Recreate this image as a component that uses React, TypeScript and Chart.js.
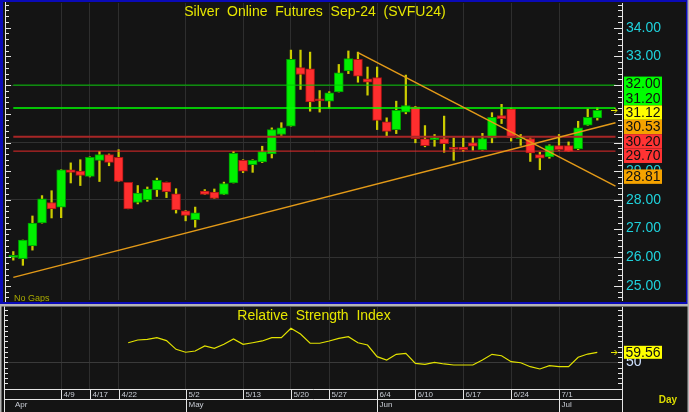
import React, { useEffect, useRef } from 'react';
import { Chart, registerables } from 'chart.js';

Chart.register(...registerables);

// ---------- DATA ----------
const OPEN = [26.00, 25.95, 26.40, 27.20, 27.91, 27.75, 29.05, 29.00, 28.82, 29.38,
  29.58, 29.48, 28.61, 27.91, 28.00, 28.35, 28.61, 28.21, 27.62, 27.31,
  28.31, 28.27, 28.19, 28.59, 29.38, 29.23, 29.32, 29.60, 30.28, 30.57,
  32.61, 32.57, 31.48, 31.44, 31.76, 32.49, 32.90, 32.22, 32.26, 30.72,
  30.45, 31.06, 31.24, 30.13, 30.10, 30.14, 29.80, 29.84, 29.99, 29.75,
  30.15, 30.94, 31.17, 30.13, 30.14, 29.58, 29.50, 29.89, 29.89, 29.78,
  30.60, 30.86];
const HIGH = [26.20, 26.60, 27.44, 28.15, 28.32, 29.05, 29.29, 29.40, 29.50, 29.69,
  29.60, 29.75, 28.61, 28.50, 28.45, 28.76, 28.62, 28.39, 27.63, 27.75,
  28.36, 28.38, 28.62, 29.69, 29.40, 29.40, 29.87, 30.51, 30.69, 33.22,
  33.22, 33.15, 31.81, 31.77, 32.72, 33.19, 33.15, 32.63, 32.63, 30.86,
  31.44, 32.35, 31.26, 30.59, 30.28, 30.92, 30.16, 30.16, 30.18, 30.32,
  31.04, 31.33, 31.20, 30.28, 30.16, 29.66, 29.92, 30.28, 30.02, 30.74,
  31.17, 31.21];
const LOW = [25.90, 25.72, 26.25, 27.19, 27.37, 27.38, 28.59, 28.50, 28.80, 28.64,
  29.19, 28.64, 27.69, 27.86, 27.95, 28.12, 28.08, 27.54, 27.27, 27.05,
  28.19, 28.05, 28.19, 28.59, 28.95, 28.96, 29.30, 29.46, 30.25, 30.57,
  31.85, 31.09, 31.06, 31.20, 31.76, 32.40, 32.10, 31.65, 30.45, 30.22,
  30.31, 31.00, 29.99, 29.85, 29.87, 29.66, 29.38, 29.69, 29.73, 29.73,
  29.99, 30.66, 30.05, 29.90, 29.34, 29.05, 29.45, 29.73, 29.69, 29.75,
  30.60, 30.78];
const CLOSE = [26.02, 26.60, 27.19, 28.04, 27.69, 29.05, 28.96, 28.85, 29.48, 29.58,
  29.31, 28.64, 27.69, 28.24, 28.38, 28.68, 28.29, 27.65, 27.46, 27.55,
  28.19, 28.05, 28.57, 29.62, 29.00, 29.38, 29.68, 30.45, 30.51, 32.90,
  32.37, 31.41, 31.45, 31.73, 32.43, 32.92, 32.31, 32.10, 30.77, 30.39,
  31.12, 31.29, 30.13, 29.89, 30.13, 29.96, 29.76, 29.75, 29.87, 30.14,
  30.88, 30.83, 30.16, 30.15, 29.64, 29.45, 29.89, 29.75, 29.69, 30.51,
  30.88, 31.12];

const RSI: (number | null)[] = [null, null, null, null, null, null, null, null, null, null, null, null,
  68.7, 71.3, 72.0, 73.5, 70.7, 62.4, 59.6, 60.8, 65.6, 63.4,
  67.2, 72.3, 67.2, 68.7, 70.4, 73.5, 73.5, 82.5, 77.1, 68.2,
  68.2, 70.4, 72.9, 74.5, 68.7, 66.5, 55.4, 52.2, 57.6, 58.6,
  49.0, 48.1, 50.0, 48.4, 47.4, 47.4, 47.4, 52.2, 57.6, 56.3,
  50.6, 49.6, 45.8, 43.6, 46.8, 45.8, 45.8, 54.8, 57.9, 59.56];

const DATE_IDX = [5, 8, 11, 18, 24, 29, 33, 38, 42, 47, 52, 57];
const DATE_LABELS = ['4/9', '4/17', '4/22', '5/2', '5/13', '5/20', '5/27', '6/4', '6/10', '6/17', '6/24', '7/1'];
const MONTH_IDX = [18, 38, 57];
const MONTH_LABELS = ['May', 'Jun', 'Jul'];
const FIRST_MONTH = 'Apr';

const LEVEL_VALUES = [32.0, 31.2, 30.2, 29.7];
const LEVEL_COLORS = ['#00c400', '#00ff00', '#a82626', '#e62a2a'];
const LEVEL_WIDTHS = [1, 1.4, 2, 1];
const LEVEL_X = [0, 62.9];

const TREND_UP_X = [0, 62.9];
const TREND_UP_Y = [25.30, 30.69];
const TREND_DN_X = [36, 62.9];
const TREND_DN_Y = [33.13, 28.48];

const PRICE_TAGS = [32.00, 31.20, 31.12, 30.53, 30.20, 29.70, 28.81];
const TAG_COLORS = ['#00ff00', '#00ff00', '#ffff00', '#f5a300', '#ff3333', '#ff3333', '#f5a300'];
const RSI_LAST = 59.56;

const TITLE = 'Silver  Online  Futures  Sep-24  (SVFU24)';
const RSI_TITLE = 'Relative  Strength  Index';

// ---------- STYLE ----------
const X_MIN = -0.762;
const X_MAX = 63.58;
const P_MIN = 24.512;
const P_MAX = 34.861;
const R_MIN = 24.47;
const R_MAX = 102.87;
const BG = '#141414';
const GRID = '#2e2e2e';
const FONT = '"Liberation Sans", Arial, sans-serif';
const UP = '#00f000';
const UP_B = '#009a00';
const DN = '#ff2e2e';
const DN_B = '#a81414';

const isInt = (v: number) => Math.abs(v - Math.round(v)) < 1e-6;

function line(ctx: CanvasRenderingContext2D, x1: number, y1: number, x2: number, y2: number) {
  ctx.beginPath();
  ctx.moveTo(x1, y1);
  ctx.lineTo(x2, y2);
  ctx.stroke();
}

function arrow(ctx: CanvasRenderingContext2D, x: number, y: number) {
  ctx.save();
  ctx.strokeStyle = '#e8e800';
  ctx.lineWidth = 1;
  const yy = Math.round(y) + 0.5;
  line(ctx, x - 6, yy, x, yy);
  line(ctx, x - 2.5, yy - 2.5, x, yy);
  line(ctx, x - 2.5, yy + 2.5, x, yy);
  ctx.restore();
}

function xScaleOpts() {
  return {
    type: 'linear' as const,
    min: X_MIN,
    max: X_MAX,
    offset: false,
    grid: { color: GRID, offset: false, drawTicks: false, lineWidth: 1 },
    border: { display: false },
    ticks: { display: false },
    afterBuildTicks: (s: any) => { s.ticks = DATE_IDX.map((v) => ({ value: v })); },
    afterFit: (s: any) => { s.height = 0; s.paddingLeft = 0; s.paddingRight = 0; },
  };
}

export default function App() {
  const refA = useRef<HTMLCanvasElement>(null);
  const refB = useRef<HTMLCanvasElement>(null);

  useEffect(() => {
    const levelSets = LEVEL_VALUES.map((v, i) => ({
      type: 'line' as const,
      data: LEVEL_X.map((x) => ({ x, y: v })),
      borderColor: LEVEL_COLORS[i],
      borderWidth: LEVEL_WIDTHS[i],
      pointRadius: 0,
      order: 0,
    }));
    const trendSets = [
      { xs: TREND_UP_X, ys: TREND_UP_Y },
      { xs: TREND_DN_X, ys: TREND_DN_Y },
    ].map((t) => ({
      type: 'line' as const,
      data: t.xs.map((x, i) => ({ x, y: t.ys[i] })),
      borderColor: '#e39a18',
      borderWidth: 1.5,
      pointRadius: 0,
      order: -1,
    }));

    const pricePlugin = {
      id: 'priceDeco',
      afterDraw(chart: any) {
        const { ctx, chartArea: ca } = chart;
        const y = chart.scales.y;
        ctx.save();
        ctx.strokeStyle = '#e6e6e6';
        ctx.lineWidth = 1;
        line(ctx, 5.5, 2, 5.5, 302);
        y.ticks.forEach((t: any) => {
          const py = Math.round(y.getPixelForValue(t.value)) + 0.5;
          if (py < ca.top || py > ca.bottom) return;
          const major = isInt(t.value);
          line(ctx, 6, py, major ? 11 : 9, py);
          line(ctx, major ? 614 : 618, py, 622, py);
        });
        ctx.fillStyle = '#e6e600';
        ctx.font = '14px ' + FONT;
        ctx.textAlign = 'center';
        ctx.textBaseline = 'middle';
        ctx.fillText(TITLE, (ca.left + ca.right) / 2 + 1, 12);
        ctx.fillStyle = '#a8a800';
        ctx.font = '9px ' + FONT;
        ctx.textAlign = 'left';
        ctx.textBaseline = 'alphabetic';
        ctx.fillText('No Gaps', 14, 300.5);
        const H = 14.4;
        const items = PRICE_TAGS.map((v, i) => ({ v, c: TAG_COLORS[i], d: y.getPixelForValue(v) }))
          .sort((a, b) => a.d - b.d);
        let groups = items.map((it) => ({ items: [it] }));
        const center = (g: any) => g.items.reduce((s: number, it: any) => s + it.d, 0) / g.items.length;
        let merged = true;
        while (merged) {
          merged = false;
          for (let i = 0; i < groups.length - 1; i++) {
            const a = groups[i], b = groups[i + 1];
            if (center(a) + a.items.length * H / 2 > center(b) - b.items.length * H / 2) {
              a.items.push(...b.items);
              groups.splice(i + 1, 1);
              merged = true;
              break;
            }
          }
        }
        ctx.font = '14px ' + FONT;
        ctx.textAlign = 'left';
        ctx.textBaseline = 'middle';
        groups.forEach((g) => {
          const c = center(g);
          const n = g.items.length;
          g.items.forEach((it, k) => {
            const yy = c + (k - (n - 1) / 2) * H;
            ctx.fillStyle = it.c;
            ctx.fillRect(624, yy - H / 2, 38, H);
            ctx.fillStyle = '#111111';
            ctx.fillText(it.v.toFixed(2), 625.5, yy + 0.5);
          });
        });
        arrow(ctx, 617, y.getPixelForValue(CLOSE[CLOSE.length - 1]));
        ctx.strokeStyle = '#0a0ab8';
        ctx.lineWidth = 2;
        ctx.strokeRect(1, 1, 686, 302);
        ctx.fillStyle = '#0a0ab8';
        ctx.fillRect(0, 0, 3, 304);
        ctx.fillStyle = '#b8b8b8';
        ctx.fillRect(687.5, 0, 1.5, 304);
        ctx.restore();
      },
    };

    const chartA = new Chart(refA.current!, {
      type: 'bar',
      data: {
        datasets: [
          ...trendSets,
          ...levelSets,
          {
            type: 'bar',
            data: OPEN.map((o, i) => ({ x: i, y: [o, CLOSE[i]] })) as any,
            backgroundColor: OPEN.map((o, i) => (CLOSE[i] >= o ? UP : DN)),
            borderColor: OPEN.map((o, i) => (CLOSE[i] >= o ? UP_B : DN_B)),
            borderWidth: 1,
            borderSkipped: false,
            barThickness: 9,
            grouped: false,
            minBarLength: 2,
            order: 1,
          } as any,
          {
            type: 'bar',
            data: LOW.map((l, i) => ({ x: i, y: [l, HIGH[i]] })) as any,
            backgroundColor: '#cccc00',
            borderWidth: 0,
            barThickness: 1.6,
            grouped: false,
            order: 2,
          } as any,
        ],
      },
      options: {
        animation: false,
        responsive: false,
        maintainAspectRatio: false,
        events: [],
        layout: { padding: { left: 6, top: 3, right: 0, bottom: 4 }, autoPadding: false } as any,
        plugins: { legend: { display: false }, tooltip: { enabled: false } },
        scales: {
          x: xScaleOpts() as any,
          y: {
            type: 'linear',
            position: 'right',
            min: P_MIN,
            max: P_MAX,
            beginAtZero: false,
            grid: {
              drawTicks: false,
              color: (c: any) => {
                const v = c.tick ? c.tick.value : 0;
                return isInt(v) && Math.round(v) % 2 === 0 && v < 33 ? '#313131' : 'rgba(0,0,0,0)';
              },
            },
            border: { display: true, color: '#e6e6e6', width: 1 },
            ticks: {
              autoSkip: false,
              padding: 4,
              color: '#1fd2dc',
              font: { family: FONT, size: 14 },
              callback: (v: any) => (isInt(Number(v)) ? Number(v).toFixed(2) : ''),
            },
            afterBuildTicks: (s: any) => {
              const t = [];
              for (let k = 123; k <= 174; k++) t.push({ value: Math.round(k * 2) / 10 });
              s.ticks = t;
            },
            afterFit: (s: any) => { s.width = 67; s.paddingTop = 0; s.paddingBottom = 0; },
          } as any,
        },
      },
      plugins: [pricePlugin],
    });

    const rsiPlugin = {
      id: 'rsiDeco',
      afterDraw(chart: any) {
        const { ctx, chartArea: ca } = chart;
        const y = chart.scales.y;
        const x = chart.scales.x;
        ctx.save();
        ctx.fillStyle = '#b4b4b4';
        ctx.fillRect(0, 0, 689, 2.5);
        ctx.fillRect(0, 0, 1.5, 108);
        ctx.fillRect(687.5, 0, 1.5, 108);
        ctx.strokeStyle = '#e6e6e6';
        ctx.lineWidth = 1;
        line(ctx, 4.5, 2.5, 4.5, 108);
        line(ctx, 622.5, ca.bottom, 622.5, 108);
        y.ticks.forEach((t: any) => {
          const py = Math.round(y.getPixelForValue(t.value)) + 0.5;
          if (py < ca.top + 1 || py > ca.bottom - 1) return;
          line(ctx, 5, py, 8, py);
          line(ctx, 618, py, 622, py);
        });
        ctx.fillStyle = '#e6e600';
        ctx.font = '14px ' + FONT;
        ctx.textAlign = 'center';
        ctx.textBaseline = 'middle';
        ctx.fillText(RSI_TITLE, (ca.left + ca.right) / 2, 12.5);
        const ty = y.getPixelForValue(RSI_LAST);
        ctx.fillStyle = '#ffff00';
        ctx.fillRect(624, ty - 6.5, 38, 13);
        ctx.fillStyle = '#111111';
        ctx.textAlign = 'left';
        ctx.fillText(RSI_LAST.toFixed(2), 625.5, ty + 0.5);
        arrow(ctx, 617, ty);
        const yTop = ca.bottom + 0.5;
        const yMid = yTop + 10;
        ctx.strokeStyle = '#e6e6e6';
        line(ctx, 4, yTop, 622.5, yTop);
        line(ctx, 4, yMid, 622.5, yMid);
        ctx.font = '8px ' + FONT;
        ctx.fillStyle = '#c8ccd4';
        ctx.textAlign = 'left';
        ctx.textBaseline = 'middle';
        DATE_IDX.forEach((d, i) => {
          const px = Math.round(x.getPixelForValue(d)) + 0.5;
          const long = MONTH_IDX.indexOf(d) >= 0;
          line(ctx, px, yTop, px, long ? 108 : yMid);
          ctx.fillText(DATE_LABELS[i], px + 2, yTop + 5.5);
        });
        ctx.fillText(FIRST_MONTH, 15, yMid + 5.5);
        MONTH_IDX.forEach((m, i) => {
          const px = Math.round(x.getPixelForValue(m)) + 0.5;
          ctx.fillText(MONTH_LABELS[i], px + 2, yMid + 5.5);
        });
        ctx.fillStyle = '#dcdc00';
        ctx.font = 'bold 10px ' + FONT;
        ctx.textAlign = 'center';
        ctx.fillText('Day', 668, yMid + 0.5);
        ctx.restore();
      },
    };

    const chartB = new Chart(refB.current!, {
      type: 'line',
      data: {
        datasets: [
          {
            data: RSI.map((v, i) => ({ x: i, y: v })).filter((p) => p.y !== null) as any,
            borderColor: '#e2e200',
            borderWidth: 1.2,
            pointRadius: 0,
            tension: 0,
          },
        ],
      },
      options: {
        animation: false,
        responsive: false,
        maintainAspectRatio: false,
        events: [],
        layout: { padding: { left: 6, top: 3, right: 0, bottom: 23 }, autoPadding: false } as any,
        plugins: { legend: { display: false }, tooltip: { enabled: false } },
        scales: {
          x: xScaleOpts() as any,
          y: {
            type: 'linear',
            position: 'right',
            min: R_MIN,
            max: R_MAX,
            beginAtZero: false,
            grid: {
              drawTicks: false,
              color: (c: any) => (c.tick && c.tick.value === 50 ? '#3a3a3a' : 'rgba(0,0,0,0)'),
            },
            border: { display: true, color: '#e6e6e6', width: 1 },
            ticks: {
              autoSkip: false,
              padding: 4,
              color: '#cfe2ff',
              font: { family: FONT, size: 14 },
              callback: (v: any) => (Number(v) === 50 ? '50' : ''),
            },
            afterBuildTicks: (s: any) => {
              const t = [];
              for (let k = 5; k <= 20; k++) t.push({ value: k * 5 });
              s.ticks = t;
            },
            afterFit: (s: any) => { s.width = 67; s.paddingTop = 0; s.paddingBottom = 0; },
          } as any,
        },
      },
      plugins: [rsiPlugin],
    });

    return () => {
      chartA.destroy();
      chartB.destroy();
    };
  }, []);

  return (
    <div style={{ position: 'fixed', left: 0, top: 0, width: 689, height: 412, background: BG, overflow: 'hidden' }}>
      <canvas ref={refA} width={689} height={304} style={{ position: 'absolute', left: 0, top: 0 }} />
      <canvas ref={refB} width={689} height={108} style={{ position: 'absolute', left: 0, top: 304 }} />
    </div>
  );
}
